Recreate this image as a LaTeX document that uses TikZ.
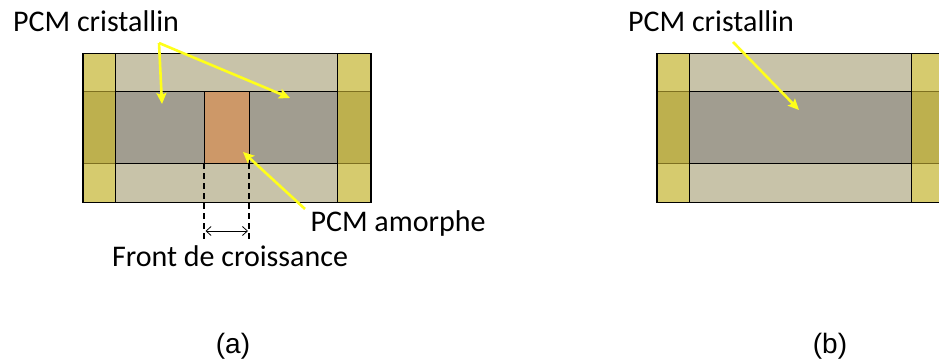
\documentclass[tikz,border=0pt]{standalone}
\usepackage{fontspec}
\setmainfont{Carlito}
\newfontfamily\capfont{Liberation Sans}
\usetikzlibrary{arrows.meta}
\definecolor{elec}{HTML}{D6CB6E}
\definecolor{elecdark}{HTML}{BDB04E}
\definecolor{elecline}{HTML}{7E7020}
\definecolor{clad}{HTML}{C8C3A9}
\definecolor{pcm}{HTML}{A19D90}
\definecolor{amorph}{HTML}{CD9868}
\definecolor{pointercol}{HTML}{FFFF1A}
\begin{document}
\begin{tikzpicture}[x=1pt,y=-1pt,
	legend/.style={font=\fontsize{30}{34}\selectfont, inner sep=0pt, anchor=base},
	caption/.style={font=\capfont\fontsize{28}{32}\selectfont, inner sep=0pt, anchor=base},
	pointer/.style={draw=pointercol, line width=2.6pt, -{Stealth[length=11pt,width=10pt,inset=2pt]}},
	frontline/.style={line width=1.8pt, dash pattern=on 6pt off 4pt}]
\useasboundingbox (0,0) rectangle (939,363);
\begin{scope}
\clip (0,0) rectangle (939,363);
\foreach \o in {0,574}
{
	\fill[clad] (\o+115.3,53.3) rectangle (\o+337.7,202.7);
	\fill[pcm] (\o+115.3,91.7) rectangle (\o+337.7,163.3);
	\foreach \e in {83,337.7}
	{
		\fill[elec] (\o+\e,53.3) rectangle ++(33.3,149.4);
		\fill[elecdark] (\o+\e,91.7) rectangle ++(33.3,71.6);
		\draw[elecline, line width=1.3pt] (\o+\e,91.7) -- ++(33.3,0);
		\draw[elecline, line width=1.3pt] (\o+\e,163.3) -- ++(33.3,0);
	}
	\draw[line width=1.4pt] (\o+115.3,91.7) -- (\o+337.7,91.7);
	\draw[line width=1.4pt] (\o+115.3,163.3) -- (\o+337.7,163.3);
	\draw[line width=1.4pt] (\o+115.3,53.3) -- (\o+115.3,202.7);
	\draw[line width=1.4pt] (\o+337.7,53.3) -- (\o+337.7,202.7);
	\draw[line width=1.4pt] (\o+83,53.3) rectangle (\o+371,202.7);
}
\end{scope}
% zone amorphe
\filldraw[fill=amorph, line width=1.4pt] (204.3,91.7) rectangle (249.3,163.3);
\coordinate (frontL) at (204.3,163.3);
\coordinate (frontR) at (249.3,163.3);
\coordinate (frontLend) at (204.3,240);
\coordinate (frontRend) at (249.3,240);
\draw[frontline] (frontL) -- (frontLend);
\draw[frontline] (frontR) -- (frontRend);
\coordinate (widthL) at (205.5,231);
\coordinate (widthR) at (248,231);
\draw[line width=0.8pt, {Straight Barb[length=5pt,width=9pt]}-{Straight Barb[length=5pt,width=9pt]}] (widthL) -- (widthR);
% textes
\node[legend] (cristA) at (96,32) {PCM cristallin};
\node[legend] (amorphA) at (398,232) {PCM amorphe};
\node[legend] (front) at (230,266.7) {Front de croissance};
\node[caption] (capA) at (233,353) {(a)};
\node[legend] (cristB) at (711,32) {PCM cristallin};
\node[caption] (capB) at (830,353) {(b)};
% fleches
\coordinate (forkA) at (159,43);
\coordinate (leftA) at (162,104);
\coordinate (rightA) at (290,98);
\coordinate (startAm) at (305,209);
\coordinate (tipAm) at (243,152);
\coordinate (startB) at (733,42);
\coordinate (tipB) at (799,110);
\draw[pointer] (forkA) -- (leftA);
\draw[pointer] (forkA) -- (rightA);
\draw[pointer] (startAm) -- (tipAm);
\draw[pointer] (startB) -- (tipB);
\end{tikzpicture}
\end{document}
